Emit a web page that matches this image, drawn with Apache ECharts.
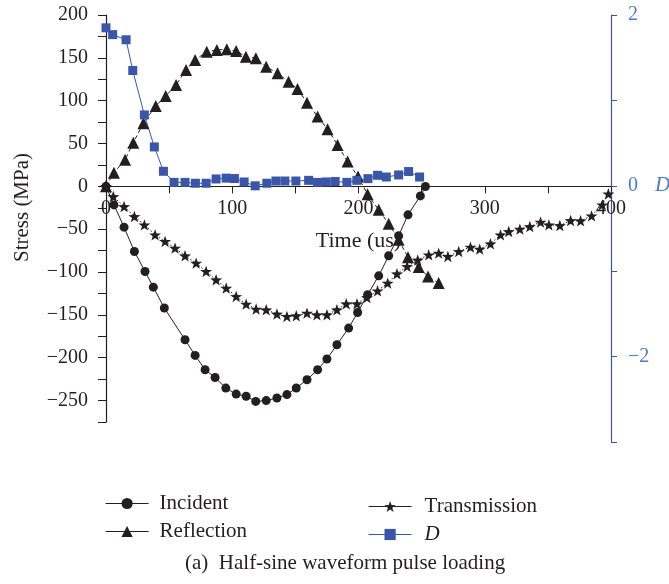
<!DOCTYPE html>
<html>
<head>
<meta charset="utf-8">
<script src="https://cdn.jsdelivr.net/npm/echarts@6/dist/echarts.min.js"></script>
<style>
  html, body { margin: 0; padding: 0; background: #fff; }
  #chart { width: 669px; height: 584px; }
</style>
</head>
<body>
<div id="chart"></div>
<script>
// Time (us) and stress (MPa) samples for each wave
const incidentT = [0, 6.3, 14.3, 22.5, 30.9, 37.5, 46.2, 62.6, 70.6, 78.5, 86.4, 94.9, 103.1, 111, 118.6, 126.9, 135.4, 143.3, 150.7, 159.2, 167.6, 175, 182.9, 192.2, 199.3, 207.2, 216, 223.9, 231.8, 239.2, 249, 253];
const incidentS = [0, -21.6, -47.6, -76, -99.3, -117.6, -142, -179, -197.3, -214, -223, -235.4, -242.4, -245, -251, -250, -247, -243, -235.3, -225.7, -214, -201.5, -184.8, -165.4, -147.2, -126.5, -104.4, -81, -57.7, -33.2, -11.1, -0.2];

const reflectionT = [0, 6.3, 15.1, 21.6, 29.6, 39.4, 47.3, 55.5, 63.4, 70.6, 79.8, 87.8, 95.7, 103.1, 110.8, 118.7, 126.9, 135.9, 144.6, 151.7, 159.2, 167.6, 175.5, 183.4, 191.4, 199.6, 207.2, 216, 223.9, 231.8, 239.2, 247.7, 255.1, 263.5];
const reflectionS = [0, 16, 31, 51, 73.7, 93.9, 105.5, 118.4, 135.9, 147.5, 157.2, 159.2, 160, 158, 151.4, 149.5, 139.7, 132, 122.2, 113.7, 97.7, 81.4, 66.7, 48.4, 28.9, 11.4, -9.3, -27.4, -43.7, -62.4, -82.6, -94.2, -105.2, -112.9];

const transmissionT = [0, 5.8, 14.3, 22.5, 30.4, 38.9, 46.8, 54.7, 62.6, 71.4, 79.3, 87.2, 95.2, 103.1, 111, 118.9, 126.9, 135.4, 143.3, 150.7, 159.2, 167.1, 175, 182.9, 190.3, 198.8, 206.7, 215.1, 223.1, 230.5, 238.5, 246.9, 255.6, 263.5, 270.8, 279.4, 288.7, 296, 304.5, 312.5, 319, 327.8, 335.7, 344.2, 350.8, 359.5, 368, 375.9, 384.6, 393.1, 397.9];
const transmissionS = [0, -11.9, -23.5, -35.2, -44.9, -56.6, -64.3, -72.1, -81, -89.6, -99.3, -109, -118.7, -128.5, -137.4, -143.2, -144, -149, -151.8, -151, -147.9, -149.9, -149.9, -144, -137, -137, -129.7, -121.9, -112.9, -102, -93.5, -86, -79.9, -77.9, -81.8, -76, -70.9, -73.2, -67, -56.6, -52.7, -49.9, -46.9, -41.7, -44.9, -45.7, -39.9, -40.2, -34.4, -21.6, -8.7];

// Dynamic balance factor D (right axis)
const dT = [0, 5.3, 15.9, 21.2, 30.4, 38.3, 45.5, 53.9, 62.6, 70.8, 79.3, 87.2, 95.2, 101.7, 109.4, 118.2, 127.4, 134.6, 141.7, 150.4, 160.5, 167.5, 174.4, 181.5, 190.8, 198.7, 207.5, 215.1, 222, 231.8, 239.7, 248.4];
const dV = [1.85, 1.77, 1.71, 1.35, 0.83, 0.455, 0.17, 0.04, 0.04, 0.03, 0.03, 0.08, 0.09, 0.085, 0.045, 0.0, 0.03, 0.056, 0.056, 0.056, 0.064, 0.04, 0.045, 0.05, 0.04, 0.064, 0.084, 0.123, 0.103, 0.127, 0.167, 0.103];

const stressTicks = [200, 150, 100, 50, 0, -50, -100, -150, -200, -250];
const timeTicks = [0, 100, 200, 300, 400];
const dTicks = [2, 0, -2];

const pair = (xs, ys) => xs.map((x, i) => [x, ys[i]]);
const minus = v => String(v).replace('-', '\u2212');

const INK = '#231f20';
const BLUE = '#3a56a8';
const BLUE_TEXT = '#4a7dc4';
const FONT = "'Liberation Serif', 'DejaVu Serif', serif";
const STAR = 'path://M0,-10L2.35,-3.24L9.51,-3.09L3.8,1.24L5.88,8.09L0,4L-5.88,8.09L-3.8,1.24L-9.51,-3.09L-2.35,-3.24Z';

// Stress axis spans -275..200; the time axis sits on its zero line,
// the D axis (-3..2) runs a little lower on the right.
const PLOT = { left: 106, right: 58, top: 15 };
const STRESS_BOTTOM = 162;
const D_BOTTOM = 142;
const ZERO_BOTTOM = 584 - (PLOT.top + (584 - PLOT.top - STRESS_BOTTOM) * 200 / 475);
const gridBox = bottom => ({
  left: PLOT.left, right: PLOT.right, top: PLOT.top, bottom,
  containLabel: false, outerBoundsMode: 'none'
});

const chart = echarts.init(document.getElementById('chart'), null, { renderer: 'canvas' });

chart.setOption({
  animation: false,
  backgroundColor: '#fff',
  textStyle: { fontFamily: FONT, color: INK },
  title: {
    text: '(a)  Half-sine waveform pulse loading',
    left: 185, top: 553, padding: 0,
    textStyle: { fontFamily: FONT, fontWeight: 'normal', fontSize: 21, color: INK }
  },
  legend: [
    {
      data: ['Incident', 'Reflection'],
      orient: 'vertical', left: 105, top: 493, padding: 0,
      itemWidth: 43, itemHeight: 14, itemGap: 7,
      lineStyle: { type: 'solid', width: 1.2 },
      textStyle: { fontFamily: FONT, fontSize: 21, color: INK, padding: [0, 0, 0, 6] }
    },
    {
      data: ['Transmission', 'D'],
      orient: 'vertical', left: 368, top: 496, padding: 0,
      itemWidth: 43, itemHeight: 14, itemGap: 7,
      lineStyle: { type: 'solid', width: 1.2 },
      formatter: name => name === 'D' ? '{i|D}' : name,
      textStyle: {
        fontFamily: FONT, fontSize: 21, color: INK, padding: [0, 0, 0, 8],
        rich: { i: { fontFamily: FONT, fontSize: 21, fontStyle: 'italic', color: INK } }
      }
    }
  ],
  grid: [gridBox(STRESS_BOTTOM), gridBox(D_BOTTOM), gridBox(ZERO_BOTTOM)],
  xAxis: [
    { type: 'value', gridIndex: 0, min: 0, max: 400, show: false },
    { type: 'value', gridIndex: 1, min: 0, max: 400, show: false },
    {
      type: 'value', gridIndex: 2, min: 0, max: 400, interval: 50,
      name: 'Time (us)', nameLocation: 'middle', nameGap: 44,
      nameTextStyle: { fontFamily: FONT, fontSize: 22, color: INK },
      axisLine: { onZero: false, lineStyle: { color: INK, width: 1.2 } },
      axisTick: { length: 7, lineStyle: { color: INK, width: 1 } },
      axisLabel: {
        margin: 12, fontFamily: FONT, fontSize: 20, color: INK,
        formatter: v => timeTicks.includes(v) ? minus(v) : ''
      },
      splitLine: { show: false }
    }
  ],
  yAxis: [
    {
      type: 'value', gridIndex: 0, min: -275, max: 200, interval: 25,
      name: 'Stress (MPa)', nameLocation: 'middle', nameGap: 73,
      nameTextStyle: { fontFamily: FONT, fontSize: 21, color: INK, padding: [0, 0, 0, 22] },
      axisLine: { show: true, onZero: false, lineStyle: { color: INK, width: 1.2 } },
      axisTick: { show: true, length: 8, lineStyle: { color: INK, width: 1 } },
      axisLabel: {
        margin: 18, fontFamily: FONT, fontSize: 20, color: INK,
        formatter: v => stressTicks.includes(v) ? minus(v) : ''
      },
      splitLine: { show: false }
    },
    {
      type: 'value', gridIndex: 1, position: 'right', min: -3, max: 2, interval: 1,
      axisLine: { show: true, onZero: false, lineStyle: { color: BLUE, width: 1.2 } },
      axisTick: { show: true, length: 6, lineStyle: { color: BLUE, width: 1 } },
      axisLabel: {
        margin: 17, fontFamily: FONT, fontSize: 20, color: BLUE_TEXT,
        formatter: v => dTicks.includes(v) ? (v === 0 ? '0{d|D}' : minus(v)) : '',
        rich: { d: { fontFamily: FONT, fontSize: 21, fontStyle: 'italic', color: BLUE_TEXT, padding: [0, 0, 0, 17] } }
      },
      splitLine: { show: false }
    },
    { type: 'value', gridIndex: 2, min: 0, max: 1, show: false }
  ],
  series: [
    {
      name: 'Incident', type: 'line', xAxisIndex: 0, yAxisIndex: 0,
      data: pair(incidentT, incidentS),
      symbol: 'circle', symbolSize: 9, showAllSymbol: true, clip: false,
      lineStyle: { color: INK, width: 1 },
      itemStyle: { color: INK }
    },
    {
      name: 'Reflection', type: 'line', xAxisIndex: 0, yAxisIndex: 0,
      data: pair(reflectionT, reflectionS),
      symbol: 'triangle', symbolSize: 12, showAllSymbol: true, clip: false,
      lineStyle: { color: INK, width: 1, type: [4, 3] },
      itemStyle: { color: INK }
    },
    {
      name: 'Transmission', type: 'line', xAxisIndex: 0, yAxisIndex: 0,
      data: pair(transmissionT, transmissionS),
      symbol: STAR, symbolSize: 12, symbolKeepAspect: true, showAllSymbol: true, clip: false,
      lineStyle: { color: INK, width: 1, type: [1.5, 2] },
      itemStyle: { color: INK }
    },
    {
      name: 'D', type: 'line', xAxisIndex: 1, yAxisIndex: 1,
      data: pair(dT, dV),
      symbol: 'rect', symbolSize: 9, showAllSymbol: true, clip: false,
      lineStyle: { color: BLUE, width: 1 },
      itemStyle: { color: BLUE }
    }
  ]
});
</script>
</body>
</html>
